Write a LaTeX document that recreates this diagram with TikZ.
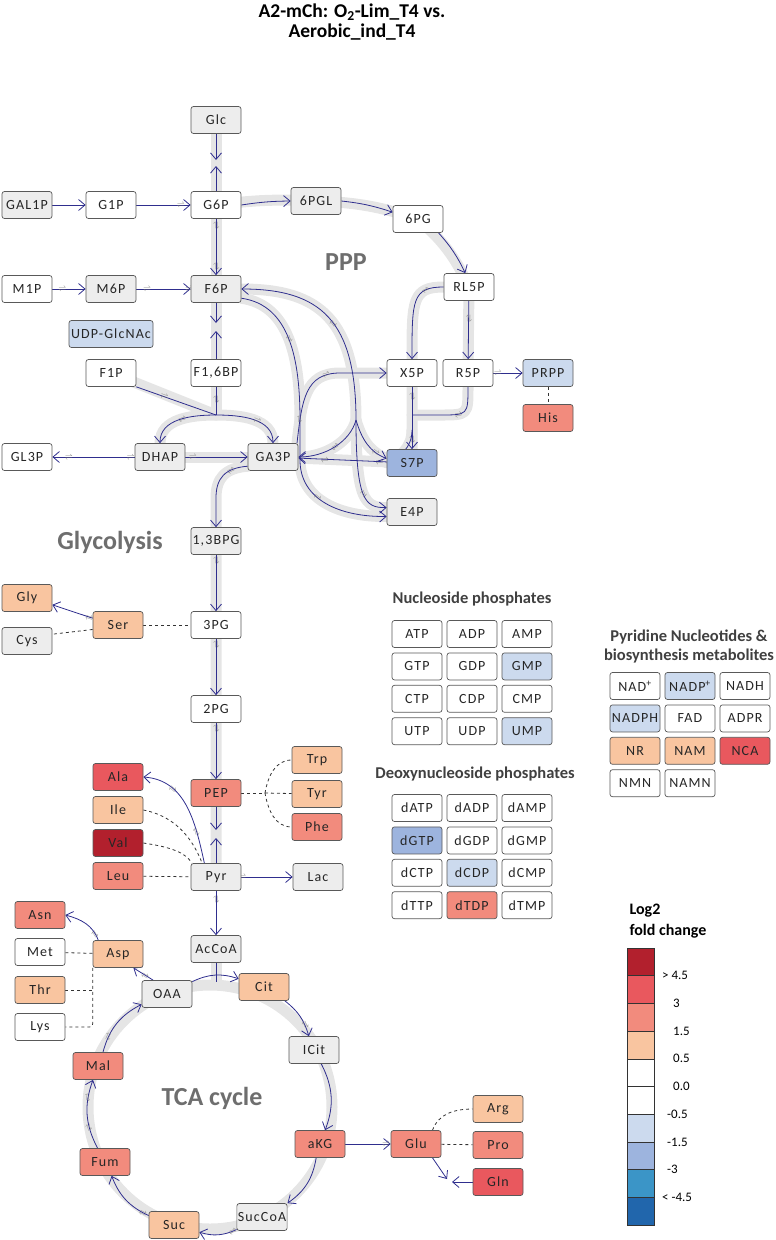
\documentclass[tikz,border=0pt]{standalone}
\usepackage{fontspec}
\setmainfont{Carlito}
\newfontfamily\boxfont[LetterSpace=8]{Carlito}
\usetikzlibrary{calc}
\usetikzlibrary{arrows.meta}

\definecolor{rxblue}{HTML}{2F2E8E}
\definecolor{halogrey}{HTML}{E5E5E5}
\definecolor{nogrey}{HTML}{EDEDED}
\definecolor{down1}{HTML}{CCDAEE}
\definecolor{down2}{HTML}{9DB4DE}
\definecolor{down3}{HTML}{3B95C7}
\definecolor{down4}{HTML}{2166AC}
\definecolor{up1}{HTML}{F9C5A0}
\definecolor{up2}{HTML}{F28B7D}
\definecolor{up3}{HTML}{E9585E}
\definecolor{up4}{HTML}{B2202D}
\definecolor{pathgrey}{HTML}{6E6E6E}

\newcommand{\rvs}{$\rightleftharpoons$}

\pgfdeclarelayer{halos}
\pgfdeclarelayer{lines}
\pgfsetlayers{halos,lines,main}

\tikzset{
  met/.style={draw=black!65, rounded corners=2.5pt, line width=0.7pt, minimum width=50pt, minimum height=27pt, inner sep=1pt, font=\boxfont\fontsize{14}{16}\selectfont, text=black!85},
  lwhite/.style={met, fill=white},
  lgrey/.style={met, fill=nogrey},
  ldown1/.style={met, fill=down1},
  ldown2/.style={met, fill=down2},
  lup1/.style={met, fill=up1},
  lup2/.style={met, fill=up2},
  lup3/.style={met, fill=up3},
  lup4/.style={met, fill=up4},
  rx/.style={draw=rxblue, line width=0.8pt},
  arr/.style={-{Straight Barb[length=6.5pt,width=11pt]}},
  halo/.style={draw=halogrey, line width=11pt, line cap=round, line join=round},
  dsh/.style={draw=black!80, dashed, line width=0.8pt},
  rv/.style={sloped, allow upside down, inner sep=0pt, text=black!55, font=\fontsize{7}{7}\selectfont},
  pathlabel/.style={font=\fontsize{26}{26}\selectfont\bfseries, text=pathgrey},
  grouptitle/.style={font=\fontsize{16.5}{19}\selectfont\bfseries, text=black!75, align=center}
}

\begin{document}
\begin{tikzpicture}[x=1pt, y=-1pt]
    \useasboundingbox (0,0) rectangle (776,1240);

    \node[font=\fontsize{19.5}{20}\selectfont\bfseries, align=center] (title) at (352,22) {A2-mCh: O\textsubscript{2}-Lim\_T4 vs.\\Aerobic\_ind\_T4};

    \node[pathlabel] (ppp) at (346,262) {PPP};
    \node[pathlabel] (glycolysis) at (110,542) {Glycolysis};
    \node[pathlabel] (tca) at (212,1098) {TCA cycle};

    % glycolysis and PPP
    \node[lgrey] (glc) at (216,120) {Glc};
    \node[lgrey] (gal1p) at (27,205) {GAL1P};
    \node[lwhite] (g1p) at (111,205) {G1P};
    \node[lwhite] (g6p) at (216,205) {G6P};
    \node[lgrey] (pgl) at (316,201) {6PGL};
    \node[lwhite] (pg) at (418,219) {6PG};
    \node[lwhite] (rl5p) at (469,287) {RL5P};
    \node[lwhite] (m1p) at (27,289) {M1P};
    \node[lgrey] (m6p) at (111,289) {M6P};
    \node[lgrey] (f6p) at (216,289) {F6P};
    \node[ldown1, minimum width=84pt] (udp) at (111,334) {UDP-GlcNAc};
    \node[lwhite] (f1p) at (111,373) {F1P};
    \node[lwhite] (fbp) at (216,373) {F1,6BP};
    \node[lwhite] (x5p) at (412,373) {X5P};
    \node[lwhite] (r5p) at (468,373) {R5P};
    \node[ldown1] (prpp) at (548,373) {PRPP};
    \node[lup2] (his) at (548,418) {His};
    \node[lwhite] (gl3p) at (27,457) {GL3P};
    \node[lgrey] (dhap) at (160,457) {DHAP};
    \node[lgrey] (ga3p) at (273,457) {GA3P};
    \node[ldown2] (s7p) at (412,463) {S7P};
    \node[lgrey] (e4p) at (412,512) {E4P};
    \node[lgrey] (bpg) at (216,541) {1,3BPG};
    \node[lup1] (gly) at (27,598) {Gly};
    \node[lgrey] (cys) at (27,641) {Cys};
    \node[lup1] (ser) at (118,625) {Ser};
    \node[lwhite] (pg3) at (216,625) {3PG};
    \node[lwhite] (pg2) at (216,709) {2PG};

    % amino acids, pyruvate
    \node[lup1] (trp) at (317,760) {Trp};
    \node[lup3] (ala) at (118,777) {Ala};
    \node[lup2] (pep) at (216,793) {PEP};
    \node[lup1] (tyr) at (317,794) {Tyr};
    \node[lup1] (ile) at (118,810) {Ile};
    \node[lup2] (phe) at (317,827) {Phe};
    \node[lup4] (val) at (118,843) {Val};
    \node[lup2] (leu) at (118,876) {Leu};
    \node[lgrey] (pyr) at (216,877) {Pyr};
    \node[lgrey] (lac) at (318,877) {Lac};
    \node[lup2] (asn) at (40,915) {Asn};
    \node[lgrey] (accoa) at (216,949) {AcCoA};
    \node[lwhite] (met) at (40,952) {Met};
    \node[lup1] (asp) at (118,954) {Asp};
    \node[lup1] (thr) at (40,990) {Thr};
    \node[lwhite] (lys) at (40,1027) {Lys};

    % TCA cycle
    \node[lgrey] (oaa) at (167,994) {OAA};
    \node[lup1] (cit) at (264,987) {Cit};
    \node[lgrey] (icit) at (314,1050) {ICit};
    \node[lup2] (mal) at (98,1066) {Mal};
    \node[lup2] (akg) at (320,1144) {aKG};
    \node[lup2] (glu) at (416,1144) {Glu};
    \node[lup1] (arg) at (498,1109) {Arg};
    \node[lup2] (pro) at (498,1145) {Pro};
    \node[lup3] (gln) at (498,1182) {Gln};
    \node[lup2] (fum) at (105,1162) {Fum};
    \node[lgrey] (succoa) at (262,1217) {SucCoA};
    \node[lup1] (suc) at (174,1225) {Suc};

    % nucleotide tables
    \node[grouptitle] (nstitle) at (472,599) {Nucleoside phosphates};
    \foreach \txt/\fc [count=\i from 0] in {ATP/white,ADP/white,AMP/white,GTP/white,GDP/white,GMP/down1,CTP/white,CDP/white,CMP/white,UTP/white,UDP/white,UMP/down1}
        \node[met, fill=\fc] (\txt) at ({417+55*mod(\i,3)},{634+32.4*div(\i,3)}) {\txt};

    \node[grouptitle] (dntitle) at (475,774) {Deoxynucleoside phosphates};
    \foreach \txt/\fc [count=\i from 0] in {dATP/white,dADP/white,dAMP/white,dGTP/down2,dGDP/white,dGMP/white,dCTP/white,dCDP/down1,dCMP/white,dTTP/white,dTDP/up2,dTMP/white}
        \node[met, fill=\fc] (\txt) at ({417+55*mod(\i,3)},{808+32.4*div(\i,3)}) {\txt};

    \node[grouptitle] (pytitle) at (689,646) {Pyridine Nucleotides \&\\biosynthesis metabolites};
    \foreach \id/\txt/\fc [count=\i from 0] in {nad/NAD\textsuperscript{+}/white,nadp/NADP\textsuperscript{+}/down1,nadh/NADH/white,nadph/NADPH/down1,fad/FAD/white,adpr/ADPR/white,nr/NR/up1,nam/NAM/up1,nca/NCA/up3,nmn/NMN/white,namn/NAMN/white}
        \node[met, fill=\fc] (\id) at ({635+55*mod(\i,3)},{686+32.4*div(\i,3)}) {\txt};

    % legend
    \node[font=\fontsize{16}{21}\selectfont\bfseries, align=left, anchor=west] (legtitle) at (626,921) {Log2\\fold change};
    \foreach \fc [count=\i from 0] in {up4,up3,up2,up1,white,white,down1,down2,down3,down4}
        \node[draw=black!80, fill=\fc, line width=0.6pt, minimum width=27pt, minimum height=27.7pt, inner sep=0pt, outer sep=0pt] (leg\i) at (640.5,{961.85+27.7*\i}) {};
    \foreach \t/\xx [count=\i] in {{> 4.5}/662,3/673,1.5/673,0.5/673,0.0/673,-0.5/667,-1.5/667,-3/667,{< -4.5}/662}
        \node[anchor=west, inner sep=0pt, font=\fontsize{13}{14}\selectfont] (legl\i) at (\xx,{948+27.7*\i}) {\t};

    \coordinate (jglc) at (216,160);
    \coordinate (jglcb) at (216,166);
    \coordinate (jf6p) at (216,323);
    \coordinate (jf6pb) at (216,331);
    \coordinate (jfbp) at (216,415);
    \coordinate (jtk) at (356,420);
    \coordinate (jr5p) at (412,415);
    \coordinate (jx5p) at (412,430);
    \coordinate (jpyr) at (216,830);
    \coordinate (jpyrb) at (216,838);
    \coordinate (jpep) at (265,793);
    \coordinate (jcyc) at (216,982);
    \coordinate (jgln) at (447,1179);
    \coordinate (jglnb) at (452,1182);

    \begin{pgfonlayer}{halos}
    \draw[halo] (glc.center) -- (jfbp);
    \draw[halo] (f1p.center) -- (jfbp);
    \draw[halo] (dhap.center) -- (dhap.north) to[out=90,in=180] (jfbp) to[out=0,in=90] (ga3p.north) -- (ga3p.center);
    \draw[halo] (dhap.center) -- (ga3p.center);
    \draw[halo] (ga3p.center) -- (ga3p.200) .. controls (225,468) and (216,478) .. (216,498) -- (pyr.center);
    \draw[halo] (accoa.center) -- (jcyc);
    \draw[halo] (210,1107) circle (122);
    \draw[halo] (g6p.center) to[bend left=5] (pgl.center) to[bend left=8] (pg.center) to[bend left=12] (rl5p.center);
    \draw[halo] (rl5p.center) -- (r5p.center);
    \draw[halo] (rl5p.center) -- (rl5p.west) .. controls (412,287) and (412,300) .. (x5p.north) -- (s7p.center);
    \draw[halo] (r5p.center) -- (r5p.south) .. controls (468,415) and (468,415) .. (440,415) -- (jr5p);
    \draw[halo] (jtk) .. controls (356,320) and (320,289) .. (f6p.east);
    \draw[halo] (jtk) .. controls (350,442) and (325,457) .. (ga3p.east);
    \draw[halo] (jtk) .. controls (362,440) and (370,452) .. (s7p.170);
    \draw[halo] (jtk) .. controls (356,500) and (365,508) .. (e4p.170);
    \draw[halo] (f6p.-20) .. controls (290,305) and (300,360) .. (300,420) -- (300,460) .. controls (300,500) and (340,517) .. (e4p.190);
    \draw[halo] (ga3p.30) .. controls (302,400) and (305,373) .. (340,373) -- (x5p.west);
    \draw[halo] (s7p.center) -- (ga3p.center);
    \draw[halo] (jx5p) .. controls (412,448) and (400,457) .. (s7p.west);
    \end{pgfonlayer}

    \begin{pgfonlayer}{lines}
    \draw[rx,arr] (glc) -- (jglc);
    \draw[rx,arr] (g6p) -- (jglcb);
    \draw[rx,arr] (gal1p) -- (g1p);
    \draw[rx,arr] (g1p) -- (g6p) node[rv,pos=.82] {\rvs};
    \draw[rx,arr] (m1p) -- (m6p) node[rv,pos=.3] {\rvs};
    \draw[rx,arr] (m6p) -- (f6p) node[rv,pos=.2] {\rvs} node[rv,pos=.97] {\rvs};
    \draw[rx,arr] (g6p) -- (f6p) node[rv,pos=.12] {\rvs} node[rv,pos=.85] {\rvs};
    \draw[rx,arr] (f6p) -- (jf6p);
    \draw[rx,arr] (fbp) -- (jf6pb);
    \draw[rx] (fbp) -- (jfbp) node[rv,pos=.45] {\rvs};
    \draw[rx] (f1p.south east) -- (jfbp) node[rv,pos=.35] {\rvs};
    \draw[rx,arr] (jfbp) to[out=180,in=90] node[rv,pos=.45] {\rvs} (dhap.north);
    \draw[rx,arr] (jfbp) to[out=0,in=90] node[rv,pos=.55] {\rvs} (ga3p.north);
    \draw[rx,arr] (dhap) -- (ga3p) node[rv,pos=.12] {\rvs};
    \draw[rx,arr] (dhap) -- (gl3p) node[rv,pos=.05] {\rvs} node[rv,pos=.8] {\rvs};
    \draw[rx,arr] (ga3p.200) .. controls (225,468) and (216,478) .. (216,498) node[rv,pos=.3] {\rvs} -- (bpg);
    \draw[rx,arr] (bpg) -- (pg3) node[rv,pos=.1] {\rvs};
    \draw[rx,arr] (pg3) -- (pg2) node[rv,pos=.1] {\rvs};
    \draw[rx,arr] (pg2) -- (pep) node[rv,pos=.1] {\rvs};
    \draw[rx,arr] (pep) -- (jpyr);
    \draw[rx,arr] (pyr) -- (jpyrb);
    \draw[rx,arr] (pyr) -- (accoa) node[rv,pos=.2] {\rvs};
    \draw[rx,arr] (pyr) -- (lac) node[rv,pos=.02] {\rvs};
    \draw[rx,arr] (pyr.130) .. controls (195,820) and (185,780) .. (ala.east) node[rv,pos=.25] {\rvs} node[rv,pos=.7] {\rvs};
    \draw[dsh] (ile.east) .. controls (180,817) and (195,845) .. (pyr.135);
    \draw[dsh] (val.east) .. controls (170,847) and (185,852) .. (pyr.150);
    \draw[dsh] (leu) -- (pyr);
    \draw[dsh] (pep) -- (jpep);
    \draw[dsh] (jpep) -- (tyr);
    \draw[dsh] (jpep) to[out=80,in=180] (trp.west);
    \draw[dsh] (jpep) to[out=-80,in=180] (phe.west);
    \draw[dsh] (ser) -- (pg3);
    \draw[rx,arr] (ser.165) -- (gly.345) node[rv,pos=.08] {\rvs};
    \draw[dsh] (ser.190) -- (cys.15);

    % PPP
    \draw[rx,arr] (g6p.east) to[bend left=4] (pgl.west);
    \draw[rx,arr] (pgl.east) to[bend left=6] (pg.165);
    \draw[rx,arr] (pg.-34) to[bend left=8] (rl5p.105);
    \draw[rx,arr] (rl5p) -- (r5p) node[rv,pos=.3] {\rvs};
    \draw[rx,arr] (rl5p.west) .. controls (412,287) and (412,300) .. (x5p.north) node[rv,pos=.25] {\rvs};
    \draw[rx,arr] (r5p) -- (prpp) node[rv,pos=.15] {\rvs};
    \draw[dsh] (prpp) -- (his);
    \draw[rx,arr] (x5p) -- (s7p) node[rv,pos=.15] {\rvs} node[rv,pos=.85] {\rvs};
    \draw[rx] (r5p.south) .. controls (468,415) and (468,415) .. (440,415) node[rv,pos=.7] {\rvs} -- (jr5p);
    \draw[rx] (jx5p) .. controls (412,448) and (400,457) .. (s7p.west);
    \draw[rx,arr] (s7p) -- (ga3p) node[rv,pos=.08] {\rvs} node[rv,pos=.7] {\rvs};
    \draw[rx,arr] (jtk) .. controls (356,320) and (320,289) .. (f6p.east) node[rv,pos=.45] {\rvs};
    \draw[rx,arr] (jtk) .. controls (350,442) and (325,457) .. (ga3p.east) node[rv,pos=.5] {\rvs};
    \draw[rx,arr] (jtk) .. controls (362,440) and (370,452) .. (s7p.170) node[rv,pos=.75] {\rvs};
    \draw[rx,arr] (jtk) .. controls (356,500) and (365,508) .. (e4p.170) node[rv,pos=.5] {\rvs};
    \draw[rx,arr] (f6p.-20) .. controls (290,305) and (300,360) .. (300,420) node[rv,pos=.5] {\rvs} -- (300,460) .. controls (300,500) and (340,517) .. (e4p.190) node[rv,pos=.4] {\rvs};
    \draw[rx,arr] (ga3p.30) .. controls (302,400) and (305,373) .. (340,373) node[rv,pos=.2] {\rvs} node[rv,pos=.85] {\rvs} -- (x5p.west);

    % TCA cycle
    \draw[rx] (accoa) -- (jcyc);
    \draw[rx,arr] (oaa) to[bend left=22] (cit);
    \draw[rx,arr] (cit) to[bend left=18] node[rv,pos=.75] {\rvs} (icit);
    \draw[rx,arr] (icit) to[bend left=24] (akg);
    \draw[rx,arr] (akg) to[bend left=23] (succoa);
    \draw[rx,arr] (succoa) to[bend left=21] node[rv,pos=.1] {\rvs} (suc);
    \draw[rx,arr] (suc) to[bend left=22] node[rv,pos=.1] {\rvs} (fum);
    \draw[rx,arr] (fum) to[bend left=24] node[rv,pos=.3] {\rvs} node[rv,pos=.75] {\rvs} (mal);
    \draw[rx,arr] (mal) to[bend left=24] node[rv,pos=.25] {\rvs} (oaa);
    \draw[rx,arr] (oaa.135) -- (asp.-42) node[rv,pos=.4] {\rvs};
    \draw[rx,arr] (asp.145) to[out=110,in=-15] node[rv,pos=.15] {\rvs} (asn.east);
    \draw[dsh] (met) -- (asp);
    \draw[dsh, rounded corners=3pt] (asp.south west) |- (lys.east);
    \draw[dsh] (thr.east) -- (thr.east -| asp.south west);
    \draw[rx,arr] (akg) -- (glu) node[rv,pos=.9] {\rvs};
    \draw[rx,arr] (glu.-40) -- (jgln);
    \draw[rx,arr] (gln) -- (jglnb);
    \draw[dsh] (glu.40) to[out=70,in=180] (arg.west);
    \draw[dsh] (glu) -- (pro);
    \end{pgfonlayer}

\end{tikzpicture}
\end{document}
